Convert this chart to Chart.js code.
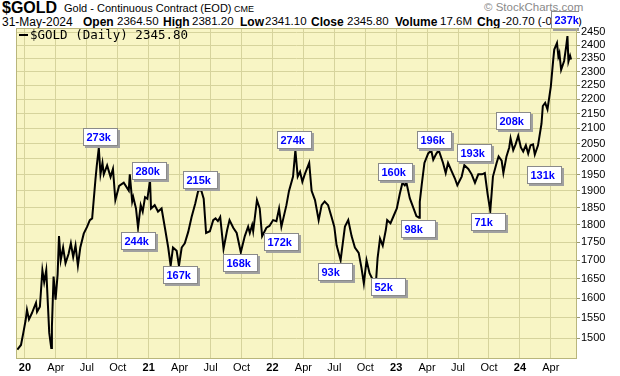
<!DOCTYPE html>
<html>
<head>
<meta charset="utf-8">
<script src="https://cdn.jsdelivr.net/npm/chart.js@4.4.1/dist/chart.umd.min.js"></script>
<style>
  html,body{margin:0;padding:0;background:#fff;}
  #wrap{position:relative;width:620px;height:376px;overflow:hidden;font-family:"Liberation Sans",Arial,sans-serif;}
  #wrap span{position:absolute;white-space:nowrap;line-height:1;color:#000;}
  #c{position:absolute;left:0;top:0;z-index:1;}
  #legend{position:absolute;z-index:2;left:19px;top:29px;font:12.5px "DejaVu Sans Mono",monospace;}
</style>
</head>
<body>
<div id="wrap">
  <span style="left:2px;top:-0.5px;font-weight:bold;font-size:16px;">$GOLD</span>
  <span style="left:64px;top:2.7px;font-size:11px;">Gold - Continuous Contract (EOD)</span>
  <span style="left:234px;top:4.5px;font-size:9px;">CME</span>
  <span style="left:484px;top:2px;font-size:11.5px;color:#8a8a8a;">&copy; StockCharts.com</span>

  <span style="left:2px;top:16px;font-size:12px;">31-May-2024</span>
  <span style="left:83px;top:15.8px;font-size:12px;font-weight:bold;">Open</span>
  <span style="left:117px;top:16.3px;font-size:11.5px;">2364.50</span>
  <span style="left:163px;top:15.8px;font-size:12px;font-weight:bold;">High</span>
  <span style="left:192px;top:16.3px;font-size:11.5px;">2381.20</span>
  <span style="left:240px;top:15.8px;font-size:12px;font-weight:bold;">Low</span>
  <span style="left:265px;top:16.3px;font-size:11.5px;">2341.10</span>
  <span style="left:311px;top:15.8px;font-size:12px;font-weight:bold;">Close</span>
  <span style="left:347px;top:16.3px;font-size:11.5px;">2345.80</span>
  <span style="left:395px;top:15.8px;font-size:12px;font-weight:bold;">Volume</span>
  <span style="left:440px;top:16.3px;font-size:11.5px;">17.6M</span>
  <span style="left:477px;top:15.8px;font-size:12px;font-weight:bold;">Chg</span>
  <span style="left:502px;top:16.3px;font-size:11.5px;">-20.70 (-0.87%)</span>

  <canvas id="c" width="620" height="376"></canvas>
  <div id="legend"><span style="position:absolute;left:0;top:5px;width:9px;height:2px;background:#000;"></span><span style="left:11px;top:0px;">$GOLD (Daily) 2345.80</span></div>
</div>
<script>
// ---- data ----
const dates = [
'2019-12-09','2019-12-20','2019-12-27','2020-01-03','2020-01-07','2020-01-13','2020-01-22','2020-02-03','2020-02-06','2020-02-14',
'2020-02-21','2020-02-26','2020-03-03','2020-03-12','2020-03-18','2020-03-20','2020-03-25','2020-03-31','2020-04-06','2020-04-10',
'2020-04-15','2020-04-22','2020-04-29','2020-05-08','2020-05-15','2020-05-22','2020-05-29','2020-06-05','2020-06-12','2020-06-22',
'2020-07-02','2020-07-10','2020-07-17','2020-07-27','2020-07-31','2020-08-06','2020-08-11','2020-08-17','2020-08-21','2020-08-31',
'2020-09-10','2020-09-17','2020-09-24','2020-10-05','2020-10-19','2020-11-03','2020-11-06','2020-11-13','2020-11-16','2020-11-24',
'2020-11-30','2020-12-08','2020-12-14','2020-12-21','2020-12-28','2021-01-05','2021-01-08','2021-01-19','2021-01-29','2021-02-08',
'2021-02-17','2021-02-26','2021-03-05','2021-03-12','2021-03-23','2021-03-30','2021-04-07','2021-04-16','2021-04-26','2021-05-06',
'2021-05-17','2021-05-26','2021-06-04','2021-06-11','2021-06-18','2021-06-29','2021-07-09','2021-07-16','2021-07-23','2021-07-30',
'2021-08-09','2021-08-20','2021-08-27','2021-09-07','2021-09-17','2021-09-29','2021-10-11','2021-10-21','2021-10-26','2021-11-02',
'2021-11-05','2021-11-16','2021-11-24','2021-12-01','2021-12-14','2021-12-23','2022-01-03','2022-01-13','2022-01-21','2022-01-28',
'2022-02-11','2022-02-18','2022-03-01','2022-03-08','2022-03-15','2022-03-22','2022-03-29','2022-04-05','2022-04-18','2022-04-25',
'2022-05-05','2022-05-16','2022-05-25','2022-06-03','2022-06-13','2022-06-23','2022-07-01','2022-07-08','2022-07-20','2022-08-02',
'2022-08-12','2022-08-22','2022-09-01','2022-09-12','2022-09-20','2022-09-27','2022-10-05','2022-10-14','2022-10-25','2022-11-02',
'2022-11-07','2022-11-14','2022-11-22','2022-12-01','2022-12-05','2022-12-15','2022-12-23','2023-01-03','2023-01-12','2023-01-20',
'2023-01-27','2023-02-01','2023-02-10','2023-02-17','2023-02-28','2023-03-08','2023-03-10','2023-03-16','2023-03-24','2023-04-04',
'2023-04-13','2023-04-19','2023-04-28','2023-05-05','2023-05-18','2023-05-26','2023-06-02','2023-06-12','2023-06-22','2023-06-29',
'2023-07-12','2023-07-20','2023-08-01','2023-08-11','2023-08-21','2023-08-31','2023-09-11','2023-09-19','2023-09-27','2023-10-05',
'2023-10-13','2023-10-24','2023-10-30','2023-11-08','2023-11-13','2023-11-22','2023-11-30','2023-12-04','2023-12-12','2023-12-19',
'2023-12-27','2024-01-04','2024-01-11','2024-01-19','2024-01-26','2024-02-02','2024-02-09','2024-02-14','2024-02-23','2024-03-04',
'2024-03-08','2024-03-15','2024-03-22','2024-04-01','2024-04-08','2024-04-11','2024-04-19','2024-04-23','2024-04-26','2024-05-01',
'2024-05-10','2024-05-16','2024-05-20','2024-05-23','2024-05-28','2024-05-31'
];
const closes = [
1473,1484,1513,1544,1570,1546,1562,1588,1565,1578,
1673,1641,1673,1513,1477,1528,1656,1596,1662,1767,
1700,1735,1692,1717,1747,1709,1741,1685,1735,1774,
1794,1813,1818,1936,1979,2036,1951,1987,1951,1979,
1943,1968,1872,1915,1925,1901,1951,1868,1881,1847,
1791,1857,1838,1881,1876,1932,1847,1857,1838,1847,
1791,1735,1685,1735,1726,1685,1735,1747,1779,1822,
1862,1901,1901,1876,1776,1781,1813,1818,1810,1822,
1731,1785,1813,1791,1776,1722,1767,1794,1776,1799,
1781,1872,1847,1767,1791,1796,1813,1810,1847,1794,
1857,1900,1944,2028,1944,1959,1928,1951,1987,1900,
1872,1813,1857,1868,1857,1822,1794,1741,1700,1794,
1813,1767,1735,1720,1680,1638,1700,1665,1645,1638,
1706,1760,1740,1785,1813,1804,1822,1847,1891,1925,
1917,1925,1878,1857,1825,1820,1867,1920,1987,2017,
2028,1997,2017,2028,1987,1955,1987,1962,1938,1917,
1944,1980,1968,1951,1925,1951,1951,1955,1891,1840,
1944,1987,2008,1994,1955,2008,2037,2067,2028,2047,
2075,2037,2024,2044,2017,2044,2047,2014,2044,2116,
2177,2188,2165,2246,2344,2383,2408,2357,2370,2307,
2340,2393,2435,2338,2360,2345.8
];
const yTicks = [1500,1550,1600,1650,1700,1750,1800,1850,1900,1950,2000,2050,2100,2150,2200,2250,2300,2350,2400,2450];
const xTickDates = ['2020-01-01','2020-04-01','2020-07-01','2020-10-01','2021-01-01','2021-04-01','2021-07-01','2021-10-01',
  '2022-01-01','2022-04-01','2022-07-01','2022-10-01','2023-01-01','2023-04-01','2023-07-01','2023-10-01','2024-01-01','2024-04-01'];
const xTickLabels = ['20','Apr','Jul','Oct','21','Apr','Jul','Oct','22','Apr','Jul','Oct','23','Apr','Jul','Oct','24','Apr'];
const annoLabels = ['273k','280k','244k','167k','215k','168k','172k','274k','93k','52k','160k','98k','196k','193k','71k','208k','131k','237k'];
const annoDates  = ['2020-08-12','2021-01-06','2020-12-02','2021-04-05','2021-06-03','2021-10-01','2022-01-31','2022-03-07','2022-07-06',
  '2022-12-09','2022-12-31','2023-03-09','2023-04-25','2023-08-22','2023-10-02','2023-12-15','2024-03-15','2024-05-25'];
const annoPrices = [2070,1960,1752,1659,1932,1690,1749,2061,1668,1627,1957,1786,2061,2017,1806,2125,1946,2497];

// ---- helpers ----
function monthIdx(s){
  const p = s.split('-').map(Number);
  const dim = new Date(p[0], p[1], 0).getDate();
  return (p[0]-2020)*12 + (p[1]-1) + (p[2]-1)/dim;
}
const points = dates.map((d,i)=>({x:monthIdx(d), y:closes[i]}));

const bgPlugin = {
  id:'bg',
  beforeDraw(chart){
    const {ctx, chartArea:a} = chart;
    ctx.save();
    ctx.fillStyle = '#f8f5c5';
    ctx.fillRect(a.left, a.top, a.right-a.left, a.bottom-a.top);
    ctx.restore();
  },
  afterDraw(chart){
    const {ctx, chartArea:a} = chart;
    ctx.save();
    ctx.strokeStyle = '#b9b67c';
    ctx.lineWidth = 1;
    ctx.strokeRect(a.left+0.5, a.top+0.5, a.right-a.left-1, a.bottom-a.top-1);
    ctx.restore();
  }
};
const annoPlugin = {
  id:'anno',
  afterDatasetsDraw(chart){
    const {ctx, scales:{x,y}} = chart;
    ctx.save();
    ctx.beginPath(); ctx.rect(0,0,579,376); ctx.clip();
    ctx.font = 'bold 11px "Liberation Sans", Arial, sans-serif';
    ctx.textBaseline = 'middle';
    annoLabels.forEach((t,i)=>{
      const cx = x.getPixelForValue(monthIdx(annoDates[i]));
      const cy = y.getPixelForValue(annoPrices[i]);
      const w = 34, h = 17;
      const l = Math.round(cx - 18) + 0.5, tp = Math.round(cy - 9.5) + 0.5;
      ctx.fillStyle = '#a0a0a0';
      ctx.fillRect(l+1.5, tp+1.5, w+1, h+1);
      ctx.fillStyle = '#ffffff';
      ctx.fillRect(l, tp, w, h);
      ctx.strokeStyle = '#8a8a8a';
      ctx.lineWidth = 1;
      ctx.strokeRect(l, tp, w, h);
      ctx.fillStyle = '#0000ff';
      ctx.fillText(t, l+3, tp+h/2+1);
    });
    ctx.restore();
  }
};

new Chart(document.getElementById('c'), {
  type:'line',
  data:{ datasets:[{ data:points, borderColor:'#000', borderWidth:2, pointRadius:0, tension:0, fill:false }]},
  options:{
    responsive:false, animation:false, devicePixelRatio:1,
    layout:{ padding:{ left:16, top:28, right:0, bottom:0 } },
    plugins:{ legend:{display:false}, tooltip:{enabled:false} },
    scales:{
      x:{
        type:'linear', min:-0.87, max:53.54, bounds:'data',
        afterBuildTicks(s){ s.ticks = xTickDates.map(d=>({value:monthIdx(d)})); },
        afterFit(s){ s.height = 17; },
        grid:{ color:'#d6d39c', lineWidth:1, tickLength:0, drawTicks:false },
        border:{ display:false },
        ticks:{
          autoSkip:false, maxRotation:0, padding:2, color:'#000',
          callback:(v,i)=>xTickLabels[i],
          font:(c)=>({ family:'"Liberation Sans", Arial, sans-serif', size:11,
                       weight: /^\d+$/.test(xTickLabels[c.index]||'') ? 'bold' : 'normal' })
        }
      },
      y:{
        type:'logarithmic', position:'right', min:1451, max:2467, bounds:'data',
        afterBuildTicks(s){ s.ticks = yTicks.map(v=>({value:v})); },
        afterFit(s){ s.width = 43; },
        grid:{ color:'#d6d39c', lineWidth:1, tickLength:3, drawTicks:true, tickColor:'#9a9870' },
        border:{ display:false },
        ticks:{ padding:1, color:'#000', callback:(v)=>String(v),
                font:{ family:'"Liberation Sans", Arial, sans-serif', size:11 } }
      }
    }
  },
  plugins:[bgPlugin, annoPlugin]
});
</script>
</body>
</html>
